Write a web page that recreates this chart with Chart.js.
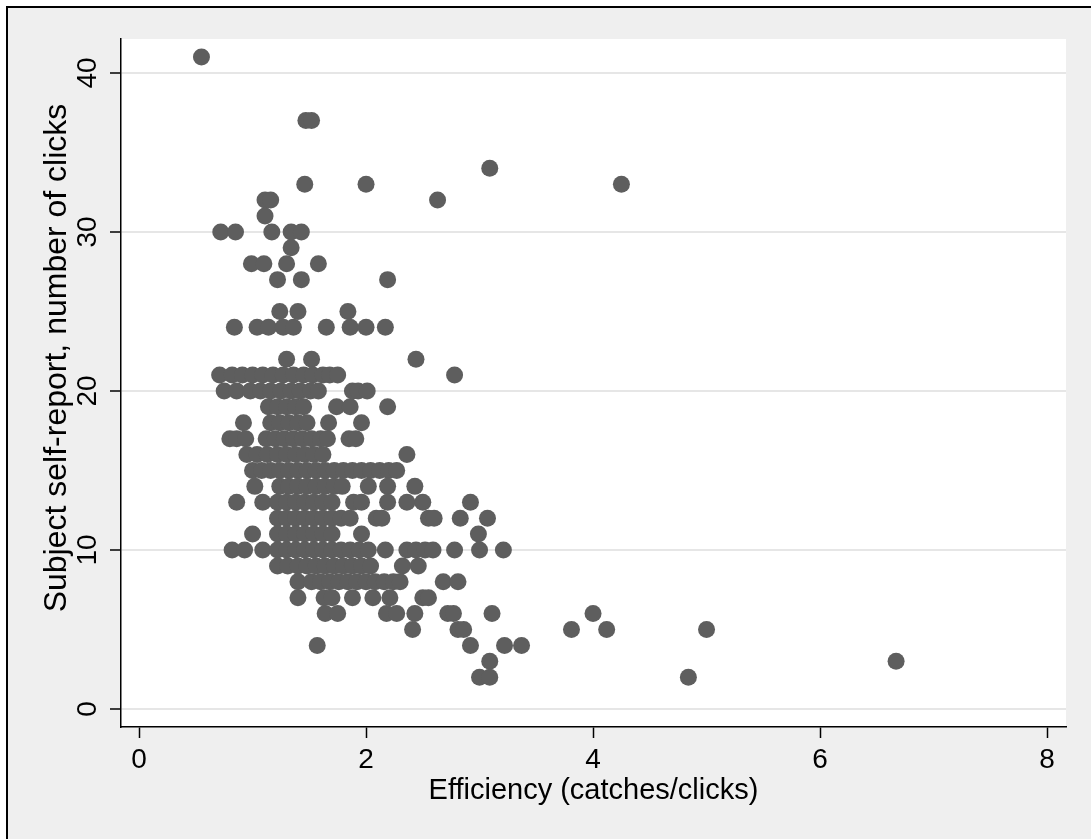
<!DOCTYPE html>
<html>
<head>
<meta charset="utf-8">
<script src="https://cdn.jsdelivr.net/npm/chart.js@4.4.1/dist/chart.umd.min.js"></script>
<style>
  body { margin: 0; background: #ffffff; }
  canvas { display: block; }
</style>
</head>
<body>
<canvas id="scatter" width="1091" height="839"></canvas>
<script>
// Self-reported clicks (y) and the efficiency values seen at each level (x)
const clickLevels = [41, 37, 34, 33, 32, 31, 30, 29, 28, 27, 25, 24, 22, 21, 20, 19, 18, 17, 16, 15, 14, 13, 12, 11, 10, 9, 8, 7, 6, 5, 4, 3, 2];
const efficiencyByLevel = [
    [0.55],
    [1.47, 1.52],
    [3.09],
    [1.46, 2.0, 4.25],
    [1.11, 1.16, 2.63],
    [1.11],
    [0.72, 0.85, 1.17, 1.34, 1.43],
    [1.34],
    [0.99, 1.10, 1.30, 1.58],
    [1.22, 1.43, 2.19],
    [1.24, 1.40, 1.84],
    [0.84, 1.04, 1.14, 1.27, 1.36, 1.65, 1.86, 2.0, 2.17],
    [1.30, 1.52, 2.44],
    [0.71, 0.82, 0.91, 1.0, 1.09, 1.18, 1.27, 1.36, 1.45, 1.53, 1.62, 1.68, 1.75, 2.78],
    [0.75, 0.86, 0.98, 1.07, 1.16, 1.25, 1.34, 1.42, 1.51, 1.58, 1.88, 1.93, 2.01],
    [1.14, 1.22, 1.30, 1.38, 1.45, 1.74, 1.86, 2.19],
    [0.92, 1.16, 1.24, 1.32, 1.40, 1.48, 1.67, 1.96],
    [0.80, 0.86, 0.94, 1.12, 1.20, 1.28, 1.36, 1.44, 1.52, 1.60, 1.66, 1.85, 1.91],
    [0.95, 1.04, 1.13, 1.22, 1.30, 1.38, 1.46, 1.54, 1.62, 2.36],
    [1.0, 1.08, 1.16, 1.24, 1.32, 1.40, 1.48, 1.56, 1.64, 1.72, 1.80, 1.88, 1.96, 2.04, 2.12, 2.20, 2.27],
    [1.02, 1.24, 1.32, 1.40, 1.48, 1.56, 1.64, 1.72, 1.79, 2.02, 2.19, 2.43],
    [0.86, 1.09, 1.22, 1.30, 1.38, 1.46, 1.54, 1.62, 1.70, 1.89, 1.96, 2.19, 2.36, 2.50, 2.92],
    [1.22, 1.30, 1.38, 1.46, 1.54, 1.62, 1.70, 1.78, 1.86, 2.09, 2.14, 2.55, 2.60, 2.83, 3.07],
    [1.0, 1.22, 1.30, 1.38, 1.46, 1.54, 1.62, 1.70, 1.96, 2.99],
    [0.82, 0.93, 1.09, 1.22, 1.30, 1.38, 1.46, 1.54, 1.62, 1.70, 1.78, 1.86, 1.94, 2.02, 2.17, 2.36, 2.44, 2.52, 2.59, 2.78, 3.0, 3.21],
    [1.22, 1.31, 1.40, 1.48, 1.56, 1.64, 1.72, 1.80, 1.88, 1.96, 2.04, 2.32, 2.46],
    [1.40, 1.52, 1.60, 1.68, 1.76, 1.84, 1.92, 2.0, 2.08, 2.16, 2.24, 2.30, 2.68, 2.81],
    [1.40, 1.63, 1.70, 1.88, 2.06, 2.21, 2.50, 2.55],
    [1.64, 1.75, 2.18, 2.27, 2.43, 2.72, 2.77, 3.11, 4.0],
    [2.41, 2.81, 2.86, 3.81, 4.12, 5.0],
    [1.57, 2.92, 3.22, 3.37],
    [3.09, 6.67],
    [3.0, 3.09, 4.84]
];

const xTickValues = [0, 2, 4, 6, 8];
const yTickValues = [0, 10, 20, 30, 40];
const xTitle = 'Efficiency (catches/clicks)';
const yTitle = 'Subject self-report, number of clicks';

const points = [];
clickLevels.forEach((clicks, i) => {
    efficiencyByLevel[i].forEach(eff => points.push({ x: eff, y: clicks }));
});

const font = 'Liberation Sans, Arial, Helvetica, sans-serif';

// Stata-like frame: grey outer region, white plot region
const backdrop = {
    id: 'backdrop',
    beforeDraw: (chart) => {
        const { ctx, width, height, chartArea } = chart;
        ctx.save();
        ctx.fillStyle = '#ffffff';
        ctx.fillRect(0, 0, width, height);
        ctx.fillStyle = '#efefef';
        ctx.fillRect(8, 8, width - 8, height - 8);
        ctx.strokeStyle = '#000000';
        ctx.lineWidth = 2;
        ctx.beginPath();
        ctx.moveTo(7, height);
        ctx.lineTo(7, 7);
        ctx.lineTo(width, 7);
        ctx.stroke();
        ctx.fillStyle = '#ffffff';
        ctx.fillRect(chartArea.left, chartArea.top, chartArea.right - chartArea.left, chartArea.bottom - chartArea.top);
        ctx.restore();
    },
    // y title sits a bit above the plot centre in the original
    afterDraw: (chart) => {
        const { ctx } = chart;
        const yScale = chart.scales.y;
        ctx.save();
        ctx.translate(yScale.left + 57, 358);
        ctx.rotate(-Math.PI / 2);
        ctx.fillStyle = '#000000';
        ctx.font = `32px ${font}`;
        ctx.textAlign = 'center';
        ctx.textBaseline = 'middle';
        ctx.fillText(yTitle, 0, 0);
        ctx.restore();
    }
};

new Chart(document.querySelector('#scatter').getContext('2d'), {
    type: 'scatter',
    data: {
        datasets: [{
            data: points,
            backgroundColor: '#5e5e5e',
            borderWidth: 0,
            pointRadius: 8.5,
            pointHoverRadius: 8.5
        }]
    },
    options: {
        responsive: false,
        animation: false,
        layout: { padding: { left: 0, right: 25, top: 39, bottom: 0 } },
        plugins: { legend: { display: false }, tooltip: { enabled: false } },
        scales: {
            x: {
                type: 'linear',
                min: -0.159,
                max: 8.167,
                afterBuildTicks: (scale) => { scale.ticks = xTickValues.map(v => ({ value: v })); },
                afterFit: (scale) => { scale.height = 112; },
                grid: { drawOnChartArea: false, drawTicks: true, tickLength: 11, tickColor: '#000000', tickWidth: 1.5 },
                border: { display: true, color: '#000000', width: 1.5 },
                ticks: { color: '#000000', padding: 5, font: { family: font, size: 28 }, maxRotation: 0 },
                title: { display: true, text: xTitle, color: '#000000', font: { family: font, size: 29 }, padding: { top: 0, bottom: 31 } }
            },
            y: {
                type: 'linear',
                min: -1.13,
                max: 42.13,
                afterBuildTicks: (scale) => { scale.ticks = yTickValues.map(v => ({ value: v })); },
                afterFit: (scale) => { scale.width = 121; },
                grid: { color: '#e6e6e6', lineWidth: 2, drawTicks: true, tickLength: 11, tickColor: '#000000', tickWidth: 1.5 },
                border: { display: true, color: '#000000', width: 1.5 },
                ticks: { color: '#000000', padding: 6, crossAlign: 'center', minRotation: 90, maxRotation: 90, font: { family: font, size: 28 } },
                title: { display: false }
            }
        }
    },
    plugins: [backdrop]
});
</script>
</body>
</html>
